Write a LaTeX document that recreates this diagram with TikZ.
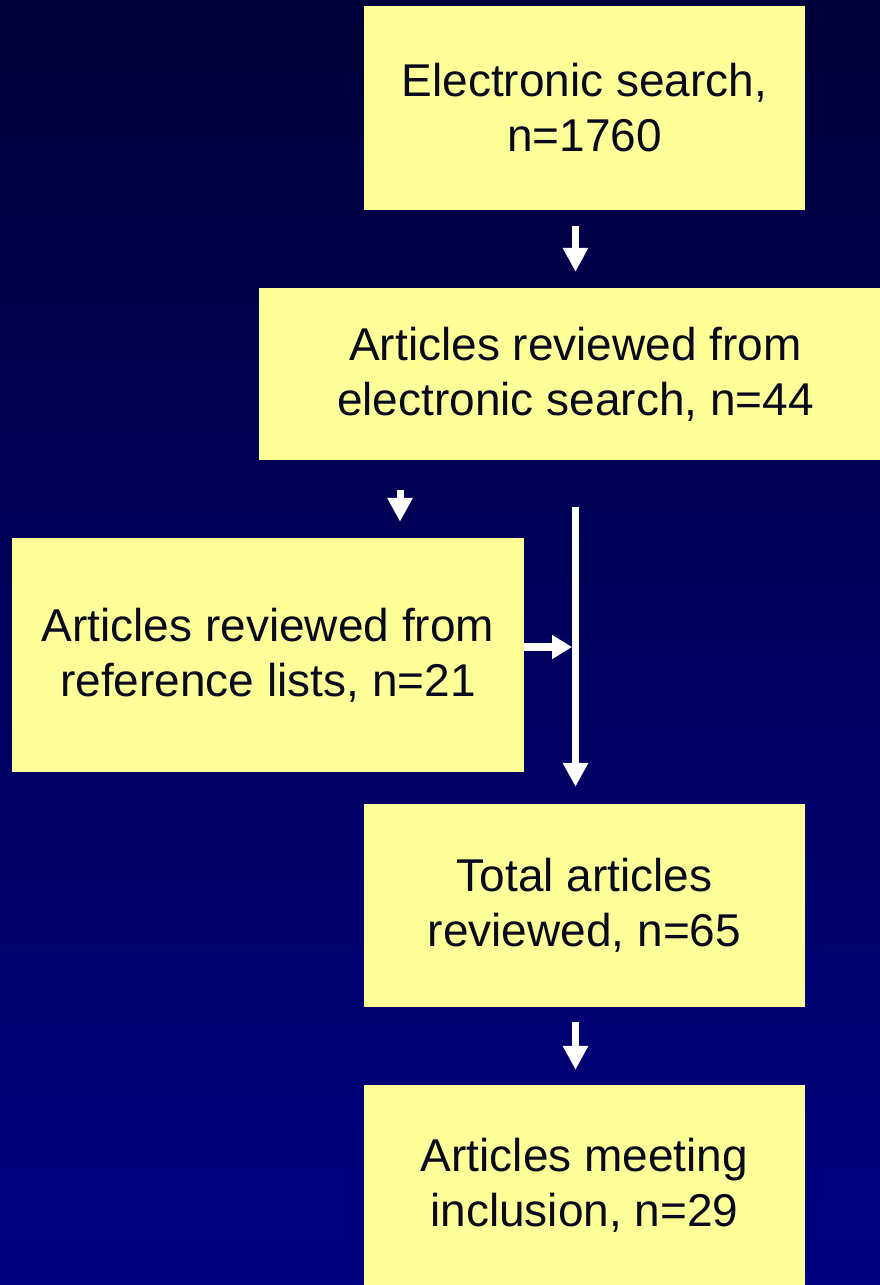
\documentclass[tikz,border=0pt]{standalone}
\usepackage{fontspec}
\setmainfont{Liberation Sans}
\usetikzlibrary{arrows.meta}
\definecolor{bgtop}{RGB}{0,0,58}
\definecolor{bgbot}{RGB}{0,0,128}
\definecolor{boxfill}{RGB}{255,255,153}
\definecolor{boxtext}{RGB}{10,10,30}
\begin{document}
\begin{tikzpicture}[x=1pt,y=-1pt,
  box/.style={fill=boxfill, draw=none, rectangle, inner sep=0pt, align=center,
    text=boxtext, font=\fontsize{46}{55}\selectfont},
  arr/.style={draw=white, line width=7pt, -{Triangle[length=24pt,width=24pt]}},
  bar/.style={draw=white, line width=7pt}
]
\path[top color=bgtop, bottom color=bgbot, draw=none] (0,0) rectangle (880,1285);
\useasboundingbox (0,0) rectangle (880,1285);

\node[box, minimum width=441pt, minimum height=204pt] (e) at (584.5,108) {Electronic search,\\n=1760};
\node[box, minimum width=621pt, minimum height=172pt] (a) at (569.5,374) {\hspace*{12pt}Articles reviewed from\\\hspace*{12pt}electronic search, n=44};
\node[box, minimum width=512pt, minimum height=234pt] (r) at (268,655) {Articles reviewed from\\reference lists, n=21};
\node[box, minimum width=441pt, minimum height=203pt] (t) at (584.5,905.5) {Total articles\\reviewed, n=65};
\node[box, minimum width=441pt, minimum height=200pt] (m) at (584.5,1185) {Articles meeting\\inclusion, n=29};

\coordinate (cx) at (575.5,0);
\coordinate (lx) at (400,0);
\coordinate (vtop) at (575.5,507);
\coordinate (hj) at (572,647);

\draw[arr, shorten <=16pt, shorten >=16pt] (e.south -| cx) -- (a.north -| cx);
\draw[arr, shorten <=30pt, shorten >=16pt] (a.south -| lx) -- (r.north -| lx);
\draw[arr, shorten >=17pt] (vtop) -- (t.north -| cx);
\draw[white, line width=8pt, -{Triangle[length=20pt,width=23pt]}] (r.east |- hj) -- (hj);
\draw[arr, shorten <=15pt, shorten >=15pt] (t.south -| cx) -- (m.north -| cx);
\end{tikzpicture}
\end{document}
